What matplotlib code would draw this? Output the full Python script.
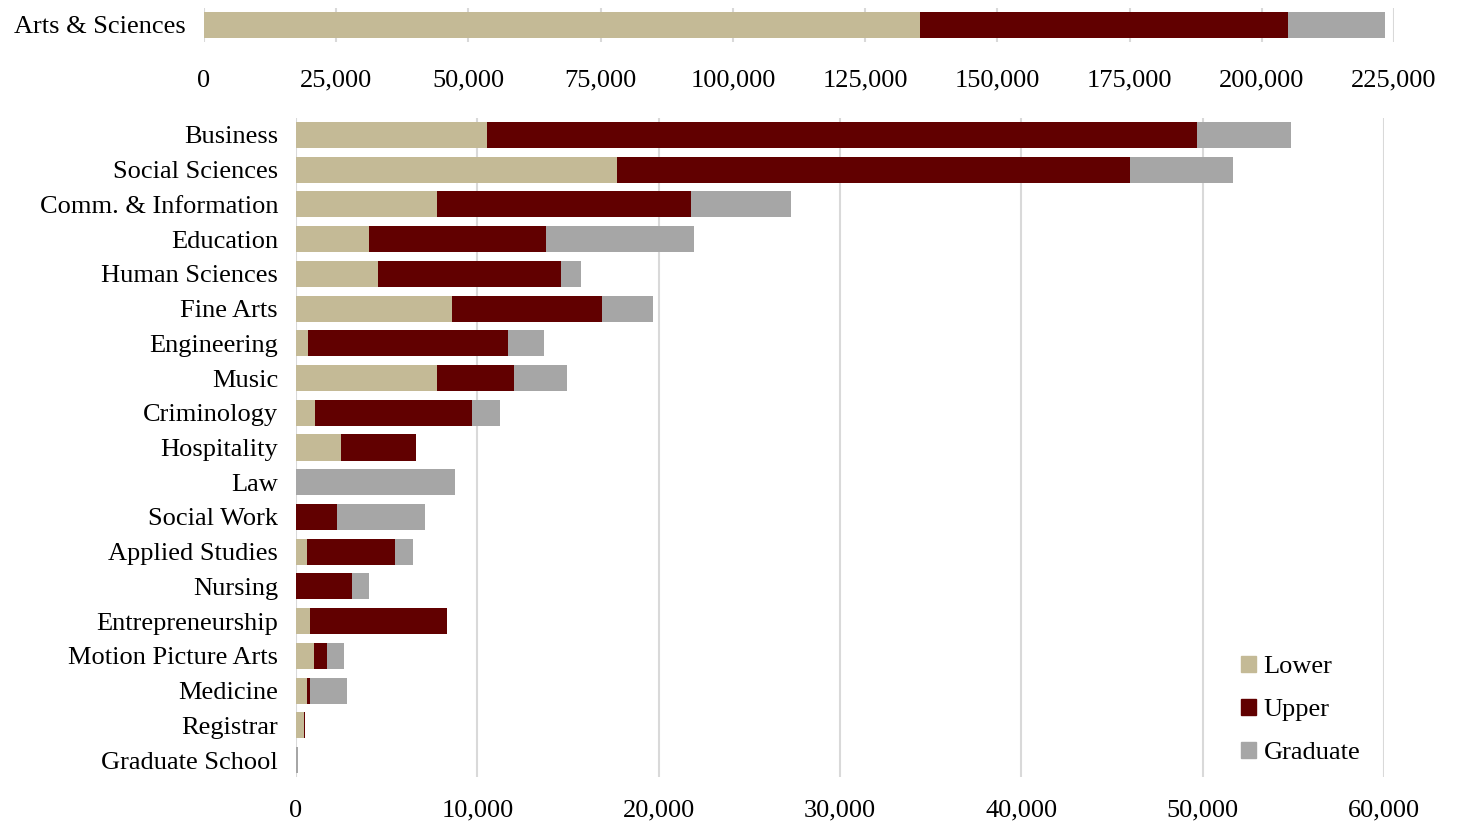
import numpy as np
import matplotlib.pyplot as plt
from matplotlib.patches import Patch
from matplotlib.ticker import FuncFormatter

# 数据
top_name = 'Arts & Sciences'
top_lower = 135400
top_upper = 69550
top_grad = 18350

colleges = ['Business', 'Social Sciences', 'Comm. & Information', 'Education',
            'Human Sciences', 'Fine Arts', 'Engineering', 'Music', 'Criminology',
            'Hospitality', 'Law', 'Social Work', 'Applied Studies', 'Nursing',
            'Entrepreneurship', 'Motion Picture Arts', 'Medicine', 'Registrar',
            'Graduate School']
lower = [10530, 17700, 7780, 4030, 4520, 8600, 660, 7780, 1050, 2480,
         0, 0, 610, 0, 770, 1000, 590, 440, 0]
upper = [39160, 28290, 14000, 9760, 10090, 8280, 11030, 4240, 8660, 4140,
         0, 2260, 4850, 3090, 7560, 700, 190, 70, 0]
grad = [5180, 5680, 5520, 8160, 1110, 2810, 1990, 2930, 1540, 0,
        8770, 4850, 990, 940, 0, 950, 2010, 0, 110]

c_lower = '#C4BA96'
c_upper = '#610000'
c_grad = '#A6A6A6'
c_grid = '#D9D9D9'

plt.rcParams['font.family'] = ['Liberation Serif', 'DejaVu Serif']

fig = plt.figure(figsize=(14.57, 8.23), dpi=100)
fmt = FuncFormatter(lambda v, p: '{:,.0f}'.format(v))


def style(ax):
    for s in ax.spines.values():
        s.set_visible(False)
    ax.xaxis.grid(True, color=c_grid, linewidth=1.5)
    ax.set_axisbelow(True)
    ax.tick_params(axis='both', length=0, labelsize=19)
    ax.xaxis.set_major_formatter(fmt)


# 上方 Arts & Sciences
ax1 = fig.add_axes([0.140, 0.949, 0.8168, 0.0413])
ax1.barh([0], [top_lower], height=0.74, color=c_lower)
ax1.barh([0], [top_upper], left=[top_lower], height=0.74, color=c_upper)
ax1.barh([0], [top_grad], left=[top_lower + top_upper], height=0.74, color=c_grad)
ax1.set_xlim(0, 225000)
ax1.set_ylim(-0.5, 0.5)
ax1.set_xticks(np.arange(0, 225001, 25000))
ax1.set_yticks([0])
ax1.set_yticklabels([top_name])
style(ax1)
ax1.tick_params(axis='x', pad=20)
ax1.tick_params(axis='y', pad=13)

# 下方各学院
ax2 = fig.add_axes([0.2032, 0.0554, 0.7467, 0.8017])
y = np.arange(len(colleges))
lo = np.array(lower)
up = np.array(upper)
gr = np.array(grad)
ax2.barh(y, lo, height=0.75, color=c_lower, label='Lower')
ax2.barh(y, up, left=lo, height=0.75, color=c_upper, label='Upper')
ax2.barh(y, gr, left=lo + up, height=0.75, color=c_grad, label='Graduate')
ax2.set_xlim(0, 60000)
ax2.set_ylim(len(colleges) - 0.5, -0.5)
ax2.set_xticks(np.arange(0, 60001, 10000))
ax2.set_yticks(y)
ax2.set_yticklabels(colleges)
style(ax2)
ax2.tick_params(axis='x', pad=16)
ax2.tick_params(axis='y', pad=13)

handles = [Patch(color=c_lower, label='Lower'),
           Patch(color=c_upper, label='Upper'),
           Patch(color=c_grad, label='Graduate')]
ax2.legend(handles=handles, loc='lower right', frameon=False, fontsize=19,
           handlelength=0.55, handleheight=0.55, handletextpad=0.3,
           labelspacing=0.78, bbox_to_anchor=(1.0, -0.016))

fig.savefig('out.png', dpi=100)
